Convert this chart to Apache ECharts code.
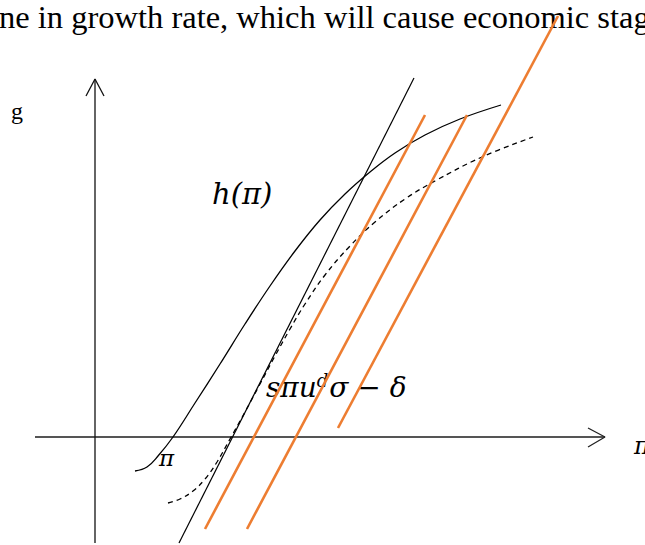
<!DOCTYPE html>
<html>
<head>
<meta charset="utf-8">
<style>
  html, body { margin: 0; padding: 0; background: #ffffff; }
  #chart { width: 645px; height: 545px; }
</style>
<script src="https://cdn.jsdelivr.net/npm/echarts@6/dist/echarts.min.js"></script>
</head>
<body>
<div id="chart"></div>
<script>
// Coordinates are in diagram units: origin where the two axes cross,
// x grows to the right (profit share π), y grows upward (growth rate g).

// Accumulation function h(π): solid S-shaped curve
const hCurve = [
  [40, -34], [52, -30], [63, -19], [78, 0], [100, 34], [125, 73],
  [150, 113], [175, 151], [200, 186], [225, 217], [250, 243], [275, 265],
  [300, 284], [330, 302], [365, 318], [406, 332]
];

// Shifted accumulation function: dashed curve
const hShifted = [
  [73, -66], [85, -62], [98, -54], [110, -42], [122, -25], [135, -2],
  [150, 25], [165, 53], [180, 81], [195, 108], [210, 133], [230, 162],
  [255, 191], [280, 215], [310, 238], [340, 256], [387, 280], [438, 300]
];

// Steep black saving line
const savingBlack = [[84, -106], [319, 359]];

// Orange saving lines sπu^dσ − δ
const savingOrange1 = [[110, -92], [330, 322]];
const savingOrange2 = [[152, -92], [372, 322]];
const savingOrange3 = [[243, 9], [463, 421]];

// Axes and their open arrowheads
const xAxisLine = [[-60, 0], [510, 0]];
const xArrow = [[493, 9], [510, 0], [493, -10]];
const yAxisLine = [[0, -106], [0, 358]];
const yArrow = [[-9, 341], [0, 358], [9, 341]];

// Text
const headerText = 'ne in growth rate, which will cause economic stag';
const gLabel = 'g';
const hLabel = 'h(π)';
const piLabel = 'π';

const chart = echarts.init(document.getElementById('chart'), null, { renderer: 'svg' });

function lineSeries(data, color, width, type, z) {
  return {
    type: 'line',
    data: data,
    symbol: 'none',
    smooth: false,
    silent: true,
    z: z || 2,
    lineStyle: { color: color, width: width, type: type || 'solid' }
  };
}

function curveSeries(data, type) {
  const s = lineSeries(data, '#000000', 1.3, type);
  s.smooth = 0.4;
  return s;
}

const ORANGE = '#ED7D31';
const serif = '"Liberation Serif", "Times New Roman", serif';
const mathFont = '"DejaVu Serif", serif';

const option = {
  animation: false,
  backgroundColor: '#ffffff',
  grid: { left: 0, top: 0, right: 0, bottom: 0 },
  xAxis: { type: 'value', min: -95, max: 550, show: false },
  yAxis: { type: 'value', min: -108, max: 437, show: false },
  series: [
    lineSeries(xAxisLine, '#555555', 2),
    lineSeries(xArrow, '#222222', 1.3),
    lineSeries(yAxisLine, '#111111', 1.3),
    lineSeries(yArrow, '#111111', 1.3),
    curveSeries(hCurve),
    curveSeries(hShifted, [5, 4]),
    lineSeries(savingBlack, '#000000', 1.2),
    lineSeries(savingOrange1, ORANGE, 2.6, 'solid', 4),
    lineSeries(savingOrange2, ORANGE, 2.6, 'solid', 4),
    lineSeries(savingOrange3, ORANGE, 2.6, 'solid', 4)
  ],
  graphic: [
    { type: 'text', z: 1, left: -1, top: 0,
      style: { text: headerText, font: '32.5px ' + serif, fill: '#000' } },
    { type: 'text', z: 1, left: 11, top: 99,
      style: { text: gLabel, font: '24px ' + serif, fill: '#000' } },
    { type: 'text', z: 1, left: 212, top: 179,
      style: { text: hLabel, font: 'italic 29px ' + mathFont, fill: '#000' } },
    { type: 'text', z: 1, left: 159, top: 446,
      style: { text: piLabel, font: 'italic 23px ' + mathFont, fill: '#000' } },
    { type: 'text', z: 1, left: 634, top: 434,
      style: { text: piLabel, font: 'italic 24px ' + mathFont, fill: '#000' } },
    { type: 'text', z: 1, left: 266, top: 371,
      style: {
        text: '{m|sπu}{sup|d}{m|σ − δ}',
        rich: {
          m: { font: 'italic 28px ' + mathFont, fill: '#000' },
          sup: { font: 'italic 18px ' + mathFont, fill: '#000', padding: [0, 1, 14, 0] }
        }
      } }
  ]
};

chart.setOption(option);
</script>
</body>
</html>
